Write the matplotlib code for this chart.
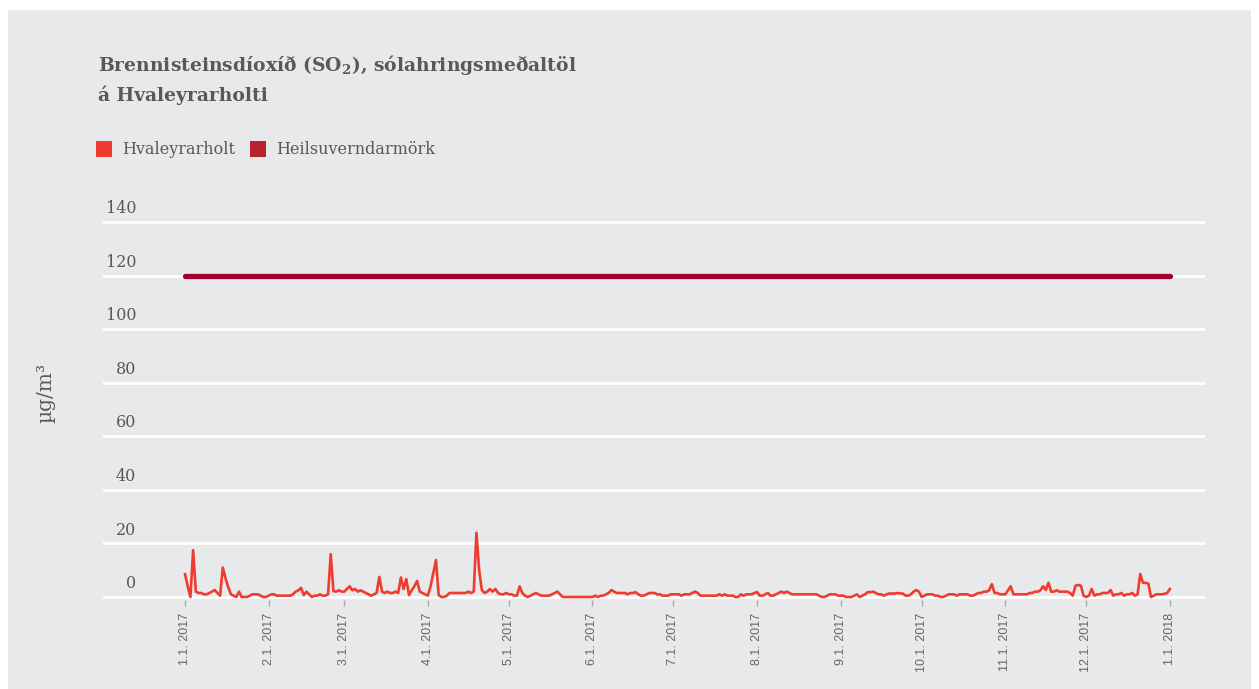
import numpy as np
import pandas as pd
import matplotlib
matplotlib.use("Agg")
import matplotlib.pyplot as plt
import matplotlib.dates as mdates
from matplotlib.patches import Rectangle

# daglegar mælingar SO2 (µg/m3), 2017, einn listi á mánuð
jan = [8.5, 4, 0, 17.5, 2, 1.5, 1.5, 1, 1, 1.5, 2, 2.6, 1.5, 0.5, 11, 7, 3.7, 1, 0.5, 0,
       2, 0, 0, 0, 0.5, 1, 1, 1, 0.5, 0, 0]
feb = [0.5, 1, 1, 0.5, 0.5, 0.5, 0.5, 0.5, 0.5, 1, 2, 2.5, 3.4, 0.7, 2, 1, 0, 0.5, 0.5, 1,
       0.5, 0.5, 1, 16, 2.2, 2, 2.5, 2]
mar = [2, 3, 4, 2.5, 3, 2, 2.5, 2, 1.5, 1, 0.5, 1, 1.5, 7.5, 2, 1.5, 2, 1.5, 1.5, 2,
       1.5, 7.3, 3, 6.7, 0.7, 2.5, 4, 6, 2, 1.5, 1]
apr = [0.5, 4, 9, 13.8, 0.7, 0, 0, 0.5, 1.5, 1.5, 1.5, 1.5, 1.5, 1.5, 1.5, 2, 1.5, 2, 24, 10,
       2.6, 1.5, 2, 3, 2, 3, 1.5, 1, 1, 1.5]
may = [1, 1, 0.5, 0.5, 4, 1.5, 0.5, 0, 0.5, 1, 1.5, 1, 0.5, 0.5, 0.5, 0.5, 1, 1.5, 2, 1,
       0, 0, 0, 0, 0, 0, 0, 0, 0, 0, 0]
jun = [0, 0.5, 0, 0.5, 0.5, 1, 1.5, 2.6, 2, 1.5, 1.5, 1.5, 1.5, 1, 1.5, 1.5, 1.8, 1, 0.5, 0.5,
       1, 1.5, 1.5, 1.5, 1, 1, 0.5, 0.5, 0.5, 1]
jul = [1, 1, 1, 0.5, 1, 1, 1, 1.5, 2, 1.5, 0.5, 0.5, 0.5, 0.5, 0.5, 0.5, 0.5, 1, 0.5, 1,
       0.5, 0.5, 0.5, 0, 0, 1, 0.5, 1, 1, 1, 1.5]
aug = [1.8, 0.5, 0.5, 1, 1.5, 0.5, 0.5, 1, 1.5, 2, 1.5, 2, 1.5, 1, 1, 1, 1, 1, 1, 1,
       1, 1, 1, 0.5, 0, 0, 0.5, 1, 1, 1, 0.5]
sep = [0.5, 0.5, 0, 0, 0, 0.5, 1, 0, 0.5, 1, 1.8, 1.8, 2, 1.5, 1, 1, 0.5, 1, 1.3, 1.3,
       1.3, 1.5, 1.3, 1.3, 0.5, 0.5, 1, 2, 2.6, 2]
okt = [0, 0.5, 1, 1, 1, 0.5, 0.5, 0, 0, 0.5, 1, 1, 1, 0.5, 1, 1, 1, 1, 0.5, 0.5,
       1, 1.5, 1.5, 2, 2, 2.5, 4.8, 1.5, 1.5, 1, 1]
nov = [1, 2.5, 4, 1, 1, 1, 1, 1, 1, 1.5, 1.5, 2, 2, 2.5, 4, 2.6, 5.3, 2, 2, 2.5,
       2, 2, 2, 2, 1.5, 0.5, 4.2, 4.5, 4.2, 0.5]
des = [0, 0.5, 3, 0.5, 1, 1, 1.5, 1.5, 1.5, 2.6, 0.5, 1, 1, 1.5, 0.5, 1, 1, 1.5, 0.5, 1,
       8.6, 5.3, 5.3, 5, 0, 0.5, 1, 1, 1, 1.2, 1.5]
jan_2018 = [3]

heilsuverndarmork = 120
y_ticks = [0, 20, 40, 60, 80, 100, 120, 140]

gildi = jan + feb + mar + apr + may + jun + jul + aug + sep + okt + nov + des + jan_2018
dagar = pd.date_range("2017-01-01", periods=len(gildi), freq="D")
manudir = pd.date_range("2017-01-01", "2018-01-01", freq="MS")
manud_texti = [f"{d.month}.{d.day}. {d.year}" for d in manudir]

plt.rcParams["mathtext.fontset"] = "custom"
plt.rcParams["mathtext.rm"] = "DejaVu Serif"
plt.rcParams["mathtext.bf"] = "DejaVu Serif:bold"

BG = "#e8e9eb"
LINA = "#f03c2e"
MORK = "#a0002b"
GRAR = "#595959"
W, H = 1259, 689

fig = plt.figure(figsize=(W / 100, H / 100), dpi=100, facecolor="white")
fig.add_artist(Rectangle((8 / W, 0), (W - 16) / W, (H - 10) / H, transform=fig.transFigure,
                         facecolor=BG, edgecolor="none", zorder=-10))

ax = fig.add_axes([103 / W, 1 - 600 / H, (1205 - 103) / W, (600 - 219) / H])
ax.set_facecolor("none")
px = 375 / 140
ax.set_ylim(-3 / px, 140 + 3 / px)
d0 = mdates.date2num(pd.Timestamp("2017-01-01"))
ax.set_xlim(d0 - 30.4, d0 + 378)

ax.set_yticks(y_ticks)
ax.yaxis.grid(True, color="white", lw=2)
ax.set_axisbelow(True)
ax.tick_params(axis="y", length=0, labelleft=False)
for s in ax.spines.values():
    s.set_visible(False)

for v in y_ticks:
    ax.annotate(f"{v}", xy=(0.030, v), xycoords=("axes fraction", "data"),
                xytext=(0, 3.5), textcoords="offset points", ha="right", va="bottom",
                fontsize=11.5, family="DejaVu Serif", color=GRAR)

ax.plot(dagar, gildi, color=LINA, lw=1.9, solid_joinstyle="round", clip_on=False, zorder=3)
ax.plot([manudir[0], manudir[-1]], [heilsuverndarmork] * 2, color=MORK, lw=3.8,
        solid_capstyle="round", zorder=3)

ax.set_xticks(manudir)
ax.set_xticklabels(manud_texti, rotation=90, family="Liberation Sans", fontsize=9, color="#666666")
ax.tick_params(axis="x", length=4, width=1, color="#aaaaaa", pad=5)

fig.text(46 / W, 1 - 393 / H, "µg/m³", rotation=90, ha="center", va="center",
         fontsize=14.5, family="DejaVu Serif", color=GRAR)

fig.text(98 / W, 1 - 53 / H, "Brennisteinsdíoxíð (SO$_\\mathbf{2}$), sólahringsmeðaltöl\ná Hvaleyrarholti",
         fontsize=13.5, fontweight="bold", family="DejaVu Serif", color=GRAR, va="top",
         linespacing=1.55)

# skýringar
for x, litur, texti in [(96, LINA, "Hvaleyrarholt"), (250, "#b5252d", "Heilsuverndarmörk")]:
    fig.add_artist(Rectangle((x / W, 1 - 157 / H), 16 / W, 16 / H, transform=fig.transFigure,
                             facecolor=litur, edgecolor="none"))
    fig.text((x + 26) / W, 1 - 150 / H, texti, ha="left", va="center",
             fontsize=11.5, family="DejaVu Serif", color=GRAR)

fig.savefig("out.png", dpi=100, facecolor=fig.get_facecolor())
